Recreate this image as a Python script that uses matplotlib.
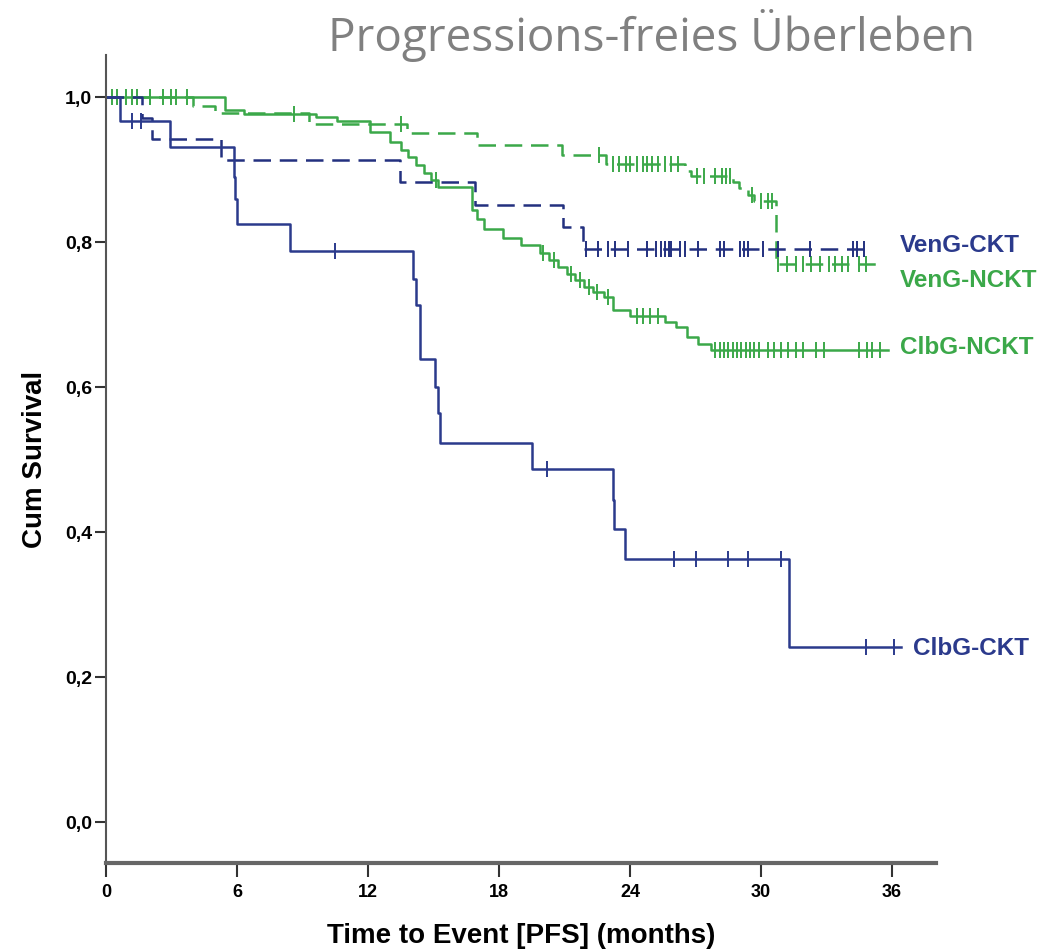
import numpy as np
import matplotlib
matplotlib.use("Agg")
import matplotlib.pyplot as plt

# --- data (months, cumulative survival) ---
# ClbG-CKT (solid blue)
clb_ckt_t = [0.65, 2.95, 5.85, 5.93, 6.0, 8.45, 14.05, 14.2, 14.4, 15.05, 15.2, 15.3,
             19.5, 23.2, 23.25, 23.75, 31.3]
clb_ckt_s = [0.967, 0.932, 0.89, 0.86, 0.825, 0.788, 0.75, 0.713, 0.639, 0.60, 0.564, 0.523,
             0.487, 0.445, 0.405, 0.363, 0.242]
clb_ckt_cens = [1.2, 1.6, 10.5, 20.2, 26.0, 27.0, 28.5, 29.4, 30.9, 34.8, 36.1]
clb_ckt_end = 36.4

# VenG-CKT (dashed blue)
ven_ckt_t = [1.65, 2.1, 5.25, 13.45, 16.9, 20.95, 21.85]
ven_ckt_s = [0.971, 0.943, 0.913, 0.883, 0.852, 0.821, 0.791]
ven_ckt_cens = [22.0, 22.55, 23.0, 23.3, 23.9, 24.8, 25.2, 25.4, 25.6, 25.8, 25.9, 26.3,
                26.5, 27.1, 28.1, 28.3, 29.05, 29.2, 29.4, 30.1, 30.8, 32.25, 34.2, 34.4, 34.7]
ven_ckt_end = 34.9

# ClbG-NCKT (solid green)
clb_nckt_t = [5.45, 6.3, 9.6, 10.6, 12.1, 13.0, 13.5, 13.85, 14.2, 14.55, 14.9, 15.2,
              16.75, 17.0, 17.3, 18.2, 19.0, 19.9, 20.3, 20.7, 21.1, 21.5, 21.9, 22.3,
              22.8, 23.2, 24.0, 25.6, 26.1, 26.6, 27.1, 27.7]
clb_nckt_s = [0.982, 0.977, 0.973, 0.968, 0.952, 0.938, 0.928, 0.918, 0.907, 0.896, 0.886, 0.876,
              0.845, 0.832, 0.819, 0.806, 0.796, 0.786, 0.776, 0.766, 0.757, 0.748, 0.739, 0.731,
              0.724, 0.706, 0.699, 0.69, 0.683, 0.669, 0.660, 0.652]
clb_nckt_cens = [0.5, 1.2, 2.0, 3.0, 8.6, 15.1, 20.0, 20.5, 21.3, 21.7, 22.1, 22.5, 23.0,
                 24.3, 24.6, 24.9, 25.3, 27.9, 28.1, 28.3, 28.5, 28.7, 28.9, 29.1, 29.3, 29.5,
                 29.7, 29.9, 30.3, 30.6, 30.9, 31.25, 31.6, 31.9, 32.5, 32.9, 34.5, 34.85,
                 35.1, 35.45]
clb_nckt_end = 35.8

# VenG-NCKT (dashed green)
ven_nckt_t = [4.0, 5.0, 9.3, 13.8, 17.0, 20.9, 22.9, 26.5, 26.8, 28.7, 29.0, 29.4, 29.7, 30.7]
ven_nckt_s = [0.988, 0.978, 0.963, 0.951, 0.934, 0.920, 0.908, 0.899, 0.892, 0.883, 0.875,
              0.866, 0.857, 0.770]
ven_nckt_cens = [0.3, 0.9, 1.4, 2.0, 2.6, 3.2, 3.7, 13.5, 22.6, 23.2, 23.5, 23.8, 24.0, 24.3,
                 24.6, 24.8, 25.0, 25.3, 25.6, 25.9, 26.2, 27.05, 27.4, 27.9, 28.2, 28.4, 28.6,
                 29.6, 30.0, 30.3, 30.5, 30.8, 31.2, 31.6, 31.9, 32.3, 32.7, 33.1, 33.4, 33.7,
                 34.0, 34.5, 34.8]
ven_nckt_end = 35.3

labels = ["VenG-CKT", "VenG-NCKT", "ClbG-NCKT", "ClbG-CKT"]
label_x = [36.35, 36.35, 36.35, 36.95]
label_y = [0.795, 0.748, 0.655, 0.24]

blue = "#2B3A8C"
green = "#3BA849"
label_colors = [blue, green, green, blue]

xticks = [0, 6, 12, 18, 24, 30, 36]
yticks = [0.0, 0.2, 0.4, 0.6, 0.8, 1.0]


def km_curve(ax, t, s, cens, end, color, dashed):
    xs = [0] + list(t) + [end]
    ys = [1.0] + list(s) + [s[-1]]
    ls = (0, (7, 3.5)) if dashed else "-"
    ax.step(xs, ys, where="post", color=color, lw=1.8, ls=ls)
    # survival level at each censoring time
    idx = np.searchsorted(np.array(t), np.array(cens), side="right")
    lev = np.array([1.0] + list(s))[idx]
    ax.plot(cens, lev, ls="none", marker="|", ms=11, mew=1.4, color=color)


fig = plt.figure(figsize=(10.49, 9.49), dpi=100)
ax = fig.add_axes([0.101, 0.0906, 0.791, 0.851])

km_curve(ax, ven_nckt_t, ven_nckt_s, ven_nckt_cens, ven_nckt_end, green, True)
km_curve(ax, clb_nckt_t, clb_nckt_s, clb_nckt_cens, clb_nckt_end, green, False)
km_curve(ax, ven_ckt_t, ven_ckt_s, ven_ckt_cens, ven_ckt_end, "#23307F", True)
km_curve(ax, clb_ckt_t, clb_ckt_s, clb_ckt_cens, clb_ckt_end, blue, False)

for lab, lx, ly, c in zip(labels, label_x, label_y, label_colors):
    ax.text(lx, ly, lab, color=c, fontsize=17.5, fontweight="bold",
            family="Liberation Sans", va="center", ha="left", clip_on=False)

ax.set_xlim(0, 38)
ax.set_ylim(-0.0566, 1.058)
ax.set_xticks(xticks)
ax.set_xticklabels([str(v) for v in xticks], family="Liberation Sans",
                   fontweight="bold", fontsize=13)
ax.set_yticks(yticks)
ax.set_yticklabels([f"{v:.1f}".replace(".", ",") for v in yticks],
                   family="Liberation Sans", fontweight="bold", fontsize=14)

for side in ["top", "right"]:
    ax.spines[side].set_visible(False)
ax.spines["left"].set_color("#555555")
ax.spines["left"].set_linewidth(1.5)
ax.spines["bottom"].set_color("#666666")
ax.spines["bottom"].set_linewidth(3)
ax.tick_params(axis="y", direction="out", length=8, width=1.5, color="#333333", pad=2)
ax.tick_params(axis="x", direction="out", length=10, width=1.5, color="#333333", pad=5)

ax.set_xlabel("Time to Event [PFS] (months)", family="Liberation Sans",
              fontweight="bold", fontsize=20, labelpad=16)
ax.set_ylabel("Cum Survival", family="Liberation Sans",
              fontweight="bold", fontsize=20, labelpad=12)

fig.text(328 / 1049, 1 - 9 / 949, "Progressions-freies Überleben", color="#808080",
         family="Open Sans", fontsize=33, ha="left", va="top")

fig.savefig("out.png", dpi=100)
